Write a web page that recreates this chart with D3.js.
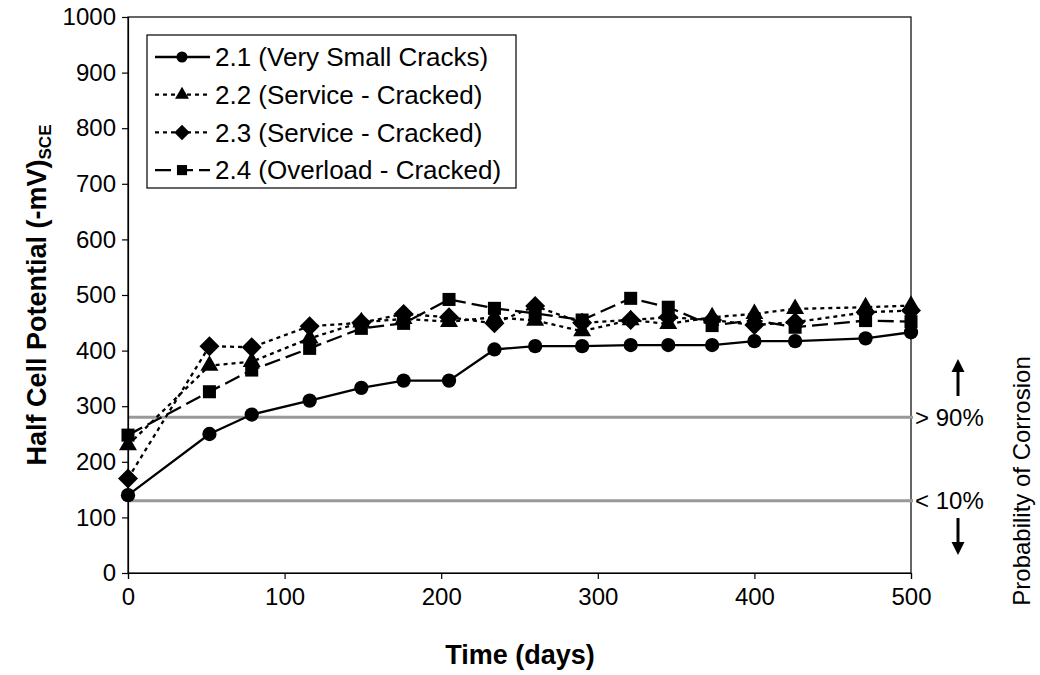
<!DOCTYPE html>
<html><head><meta charset="utf-8">
<script src="https://cdn.jsdelivr.net/npm/d3@7"></script>
<style>body{margin:0;background:#fff}svg{display:block;font-family:"Liberation Sans",Arial,sans-serif}</style>
</head><body><svg id="c" width="1040" height="675"></svg>
<script>
const days = [0, 52, 79, 116, 149, 176, 205, 234, 260, 290, 321, 345, 373, 400, 426, 471, 500];
const s21 = [140, 250, 285, 310, 333, 346, 346, 402, 408, 408, 410, 410, 410, 417, 417, 422, 433];
const s22 = [230, 373, 380, 422, 451, 457, 452, 460, 454, 435, 455, 448, 460, 466, 475, 478, 481];
const s23 = [170, 408, 406, 444, 450, 466, 460, 449, 480, 450, 455, 460, 455, 446, 451, 469, 472];
const s24 = [248, 326, 365, 404, 440, 449, 492, 476, 467, 455, 494, 478, 445, 455, 442, 454, 452];
const seriesNames = ["2.1 (Very Small Cracks)", "2.2 (Service - Cracked)", "2.3 (Service - Cracked)", "2.4 (Overload - Cracked)"];
const xTicks = [0, 100, 200, 300, 400, 500];
const yTicks = [0, 100, 200, 300, 400, 500, 600, 700, 800, 900, 1000];
const thresholds = [280, 130];
const thresholdLabels = ["> 90%", "< 10%"];

const svg = d3.select("#c");
const L = 128, R = 911, T = 17, B = 573;
const x = d3.scaleLinear().domain([0, 500]).range([L, R]);
const y = d3.scaleLinear().domain([0, 1000]).range([B, T]);

// plot border
svg.append("rect").attr("x", L).attr("y", T).attr("width", R - L).attr("height", B - T)
  .attr("fill", "none").attr("stroke", "#000").attr("stroke-width", 1.2);

// threshold lines
thresholds.forEach((v, i) => {
  svg.append("line").attr("x1", L).attr("x2", R + 2).attr("y1", y(v)).attr("y2", y(v))
    .attr("stroke", "#999").attr("stroke-width", 3);
  svg.append("text").attr("x", R + 4).attr("y", y(v)).attr("dy", "0.35em")
    .attr("font-size", 24).text(thresholdLabels[i]);
});

// axes
const ya = svg.append("g").attr("transform", `translate(${L},0)`)
  .call(d3.axisLeft(y).tickValues(yTicks).tickSize(6).tickPadding(6).tickFormat(d3.format("d")));
const xa = svg.append("g").attr("transform", `translate(0,${B})`)
  .call(d3.axisBottom(x).tickValues(xTicks).tickSize(6).tickPadding(9).tickFormat(d3.format("d")));
[ya, xa].forEach(g => {
  g.select(".domain").attr("stroke", "#000").attr("stroke-width", 1.2);
  g.selectAll(".tick line").attr("stroke", "#000").attr("stroke-width", 1.2);
  g.selectAll("text").attr("font-size", 24).attr("font-family", "Liberation Sans, Arial, sans-serif").attr("fill", "#000");
});

// axis titles
svg.append("text").attr("x", 520).attr("y", 664).attr("text-anchor", "middle")
  .attr("font-size", 27).attr("font-weight", "bold").text("Time (days)");
const yl = svg.append("text").attr("transform", `translate(46,${(T + B) / 2}) rotate(-90)`)
  .attr("text-anchor", "middle").attr("font-size", 27).attr("font-weight", "bold");
yl.append("tspan").text("Half Cell Potential (-mV)");
yl.append("tspan").attr("font-size", 17).attr("dy", 5).text("SCE");

svg.append("text").attr("transform", `translate(1030,481) rotate(-90)`)
  .attr("text-anchor", "middle").attr("font-size", 24).text("Probability of Corrosion");

// arrows
function arrow(x0, y0, y1) {
  const dir = Math.sign(y1 - y0);
  svg.append("line").attr("x1", x0).attr("x2", x0).attr("y1", y0).attr("y2", y1 - dir * 10)
    .attr("stroke", "#000").attr("stroke-width", 3);
  svg.append("path").attr("d", `M${x0 - 6.5},${y1 - dir * 13}L${x0 + 6.5},${y1 - dir * 13}L${x0},${y1}Z`).attr("fill", "#000");
}
arrow(958, 396, 359);
arrow(958, 518, 555);

// series
const diamond = { draw(ctx, size) { const r = Math.sqrt(size / 2); ctx.moveTo(0, -r); ctx.lineTo(r, 0); ctx.lineTo(0, r); ctx.lineTo(-r, 0); ctx.closePath(); } };
const symbols = [d3.symbolCircle, d3.symbolTriangle, diamond, d3.symbolSquare];
const symSizes = [160, 140, 200, 170];
const dashes = [null, "4,4", "4,4", "16,6"];
const allSeries = [s21, s22, s23, s24];
const line = d3.line().x(d => x(d[0])).y(d => y(d[1]));
allSeries.forEach((s, i) => {
  const pts = days.map((d, j) => [d, s[j]]);
  svg.append("path").attr("d", line(pts)).attr("fill", "none").attr("stroke", "#000")
    .attr("stroke-width", 2.3).attr("stroke-dasharray", dashes[i]);
  svg.append("g").selectAll("path").data(pts).join("path")
    .attr("transform", d => `translate(${x(d[0])},${y(d[1])})`)
    .attr("d", d3.symbol().type(symbols[i]).size(symSizes[i])).attr("fill", "#000");
});

// legend
const lg = svg.append("g");
lg.append("rect").attr("x", 147).attr("y", 35).attr("width", 369).attr("height", 153)
  .attr("fill", "#fff").attr("stroke", "#000").attr("stroke-width", 1.2);
seriesNames.forEach((n, i) => {
  const cy = 57 + i * 37.7;
  lg.append("line").attr("x1", 155).attr("x2", 210).attr("y1", cy).attr("y2", cy)
    .attr("stroke", "#000").attr("stroke-width", 2.3).attr("stroke-dasharray", dashes[i]);
  lg.append("path").attr("transform", `translate(182,${cy})`)
    .attr("d", d3.symbol().type(symbols[i]).size(symSizes[i] * 0.6)).attr("fill", "#000");
  lg.append("text").attr("x", 215).attr("y", cy).attr("dy", "0.35em").attr("font-size", 26).text(n);
});
</script></body></html>
